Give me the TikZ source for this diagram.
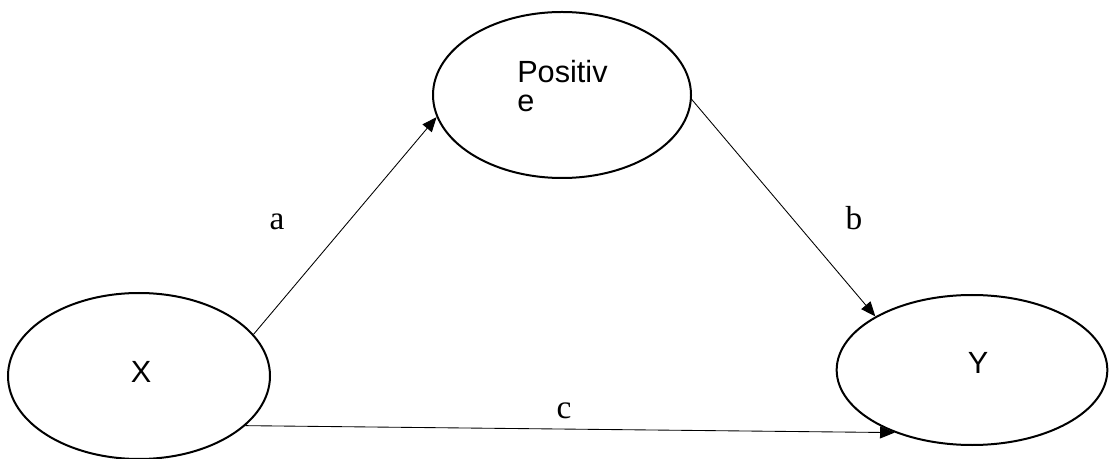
\documentclass[tikz,border=0pt]{standalone}
\usepackage{fontspec}
\setmainfont{Liberation Serif}
\newfontfamily\arialfont{Liberation Sans}
\usetikzlibrary{arrows.meta,shapes.geometric}

\begin{document}
\begin{tikzpicture}[
      x=0.75pt, y=-0.75pt,
      oval/.style={draw, ellipse, line width=1.5pt, inner sep=0pt},
      var/.style={font=\arialfont\fontsize{23}{22}\selectfont, inner sep=0pt},
      lbl/.style={font=\fontsize{25}{28}\selectfont, inner sep=0pt},
      link/.style={-{Triangle[length=11pt,width=9pt]}, line width=0.65pt}
  ]
    \useasboundingbox (0,0) rectangle (1109,459);

    \node[oval, minimum width=193.5pt, minimum height=124.5pt] (pos) at (562,95) {};
    \node[oval, minimum width=196.5pt, minimum height=124.5pt] (x) at (139,376) {};
    \node[oval, minimum width=203pt, minimum height=112.5pt] (y) at (972,370) {};

    \node[var, anchor=north west, align=left] (poslbl) at (517,60) {Positiv\\e};
    \node[var] (xlbl) at (141,372) {X};
    \node[var] (ylbl) at (978,363) {Y};

    \draw[link] (x.20) -- (pos.190);
    \draw[link] (pos.-2) -- (y.151);
    \draw[link] (x.-25) -- (y.219);

    \node[lbl] (albl) at (277,222) {a};
    \node[lbl] (blbl) at (854,218) {b};
    \node[lbl] (clbl) at (564,411) {c};
\end{tikzpicture}
\end{document}
